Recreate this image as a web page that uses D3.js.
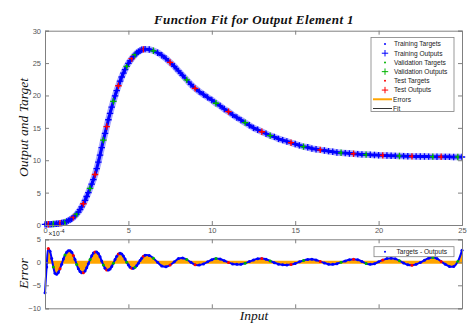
<!DOCTYPE html>
<html lang="en">
<head>
<meta charset="UTF-8">
<title>Function Fit for Output Element 1</title>
<script src="https://d3js.org/d3.v7.min.js"></script>
<style>
  body { margin: 0; background: #fff; }
  svg { display: block; }
  .tick text { font-family: "Liberation Sans", Arial, sans-serif; font-size: 7.5px; fill: #555; }
  .axis path, .axis line { stroke: #808080; }
  .ttl { font-family: "Liberation Serif", "DejaVu Serif", serif; font-style: italic; fill: #111; }
  .leg { font-family: "Liberation Sans", Arial, sans-serif; font-size: 6.6px; fill: #222; }
</style>
</head>
<body>
<script>
// inputs: 0..6 by 0.1, then 6.25..25 by 0.25
const inputs = [0,0.1,0.2,0.3,0.4,0.5,0.6,0.7,0.8,0.9,1,1.1,1.2,1.3,1.4,1.5,1.6,1.7,1.8,1.9,2,
  2.1,2.2,2.3,2.4,2.5,2.6,2.7,2.8,2.9,3,3.1,3.2,3.3,3.4,3.5,3.6,3.7,3.8,3.9,4,
  4.1,4.2,4.3,4.4,4.5,4.6,4.7,4.8,4.9,5,5.1,5.2,5.3,5.4,5.5,5.6,5.7,5.8,5.9,6,
  6.25,6.5,6.75,7,7.25,7.5,7.75,8,8.25,8.5,8.75,9,9.25,9.5,9.75,10,
  10.25,10.5,10.75,11,11.25,11.5,11.75,12,12.25,12.5,12.75,13,13.25,13.5,13.75,14,
  14.25,14.5,14.75,15,15.25,15.5,15.75,16,16.25,16.5,16.75,17,17.25,17.5,17.75,18,
  18.25,18.5,18.75,19,19.25,19.5,19.75,20,20.25,20.5,20.75,21,21.25,21.5,21.75,22,
  22.25,22.5,22.75,23,23.25,23.5,23.75,24,24.25,24.5,24.75,25];

// network outputs (targets differ only by ~1e-4)
const outputs = [0.10,0.10,0.11,0.12,0.13,0.15,0.17,0.19,0.22,0.26,0.31,0.37,0.45,0.55,0.67,0.80,0.97,1.17,1.40,1.68,2.0,
  2.37,2.8,3.28,3.8,4.4,5.0,5.65,6.3,7.0,7.8,8.7,9.7,10.8,11.95,13.1,14.15,15.2,16.25,17.25,18.2,
  19.1,19.95,20.75,21.5,22.2,22.85,23.45,24.0,24.5,24.95,25.35,25.7,26.0,26.3,26.55,26.75,26.9,27.05,27.12,27.15,
  27.1,26.9,26.6,26.2,25.7,25.1,24.5,23.8,23.1,22.4,21.7,21.1,20.6,20.15,19.7,19.3,
  18.8,18.4,17.9,17.5,17.0,16.6,16.2,15.8,15.4,15.0,14.7,14.4,14.1,13.8,13.6,13.3,
  13.1,12.9,12.7,12.5,12.3,12.1,12.0,11.8,11.7,11.6,11.5,11.4,11.3,11.2,11.15,11.1,
  11.05,11.0,10.95,10.9,10.87,10.84,10.81,10.78,10.75,10.72,10.7,10.68,10.66,10.64,10.62,10.6,
  10.59,10.58,10.57,10.56,10.55,10.54,10.53,10.52,10.52,10.51,10.51,10.5];

// targets - outputs, in units of 1e-4
const errors = [-6.6,-1.0,3.0,2.4,0.8,-1.0,-2.4,-2.6,-2.2,-1.4,-0.4,0.7,1.6,2.2,2.5,2.5,2.2,1.5,0.6,-0.5,-1.4,
  -2.0,-2.25,-2.25,-1.9,-1.2,-0.3,0.6,1.4,2.0,2.25,2.25,1.9,1.2,0.3,-0.6,-1.3,-1.65,-1.7,-1.45,-0.9,
  -0.2,0.6,1.3,1.8,1.95,1.8,1.35,0.7,0.0,-0.6,-1.05,-1.3,-1.3,-1.1,-0.7,-0.2,0.4,0.9,1.3,1.55,
  1.5,0.9,0.0,-0.8,-0.95,-0.6,0.1,0.8,0.95,0.6,0.0,-0.55,-0.6,-0.35,0.1,0.55,
  0.8,0.7,0.35,-0.05,-0.35,-0.45,-0.4,-0.2,0.15,0.5,0.75,0.8,0.65,0.3,-0.1,-0.4,
  -0.55,-0.6,-0.5,-0.25,0.1,0.4,0.6,0.65,0.5,0.2,-0.15,-0.4,-0.45,-0.3,0.0,0.3,
  0.55,0.65,0.55,0.2,-0.25,-0.45,-0.3,0.1,0.5,0.8,0.9,0.75,0.35,-0.15,-0.55,-0.65,
  -0.45,-0.05,0.45,0.9,1.05,0.8,0.2,-0.45,-0.9,-0.9,0.2,2.6];

// T = training, V = validation, S = test
const split = "TTSTTVTTTSTTVTTTTSTVTTTSTTTVTTSTTTTVTSTTTVTTSTTTTVTTSTVTTTTSTTVTTTSTTTVTSTTTTVTTSTTTVTTTSTVTTTTSTTVTTTSTTTTVTTSTTVTTTSTTTVTTSTTTTVTSTTTVTTS";

const yTicksTop = [0, 5, 10, 15, 20, 25, 30];
const yTicksErr = [-10, -5, 0, 5];
const xTicks = [0, 5, 10, 15, 20, 25];
const legendTop = ["Training Targets", "Training Outputs", "Validation Targets", "Validation Outputs", "Test Targets", "Test Outputs", "Errors", "Fit"];

const splitColor = {T: "#0000ff", V: "#00b400", S: "#ff0000"};
const errColor = "#ffa500";

const data = inputs.map((x, i) => ({x: x, y: outputs[i], e: errors[i], s: split[i] || "T"}));

const W = 472, H = 324;
const svg = d3.select("body").append("svg").attr("width", W).attr("height", H);

const x = d3.scaleLinear().domain([0, 25]).range([45, 462]);
const yTop = d3.scaleLinear().domain([0, 30]).range([225, 30.7]);
const yErr = d3.scaleLinear().domain([-10, 5]).range([308.3, 239.3]);

function box(yScale, yTicks, showX) {
  const [y0, y1] = yScale.range();
  svg.append("g").attr("class", "axis").attr("transform", `translate(0,${y0})`)
    .call(d3.axisBottom(x).tickValues(xTicks).tickSize(-4).tickPadding(3)
      .tickFormat(showX ? d3.format("d") : ""));
  svg.append("g").attr("class", "axis").attr("transform", `translate(0,${y1})`)
    .call(d3.axisTop(x).tickValues(xTicks).tickSize(-4).tickFormat(""));
  svg.append("g").attr("class", "axis").attr("transform", `translate(${x.range()[0]},0)`)
    .call(d3.axisLeft(yScale).tickValues(yTicks).tickSize(-4).tickPadding(4));
  svg.append("g").attr("class", "axis").attr("transform", `translate(${x.range()[1]},0)`)
    .call(d3.axisRight(yScale).tickValues(yTicks).tickSize(-4).tickFormat(""));
  svg.selectAll(".axis path").attr("stroke", "#808080");
}

// ---------- top plot ----------
const topLine = d3.line().x(d => x(d.x)).y(d => yTop(d.y)).curve(d3.curveMonotoneX);
svg.append("path").datum(data)
  .attr("fill", "none").attr("stroke", "#000").attr("stroke-width", 1).attr("d", topLine);
// dense marker band (outputs drawn over the fit)
svg.append("path").datum(data)
  .attr("fill", "none").attr("stroke", "#a8a8ff").attr("stroke-width", 6.5).attr("d", topLine);
svg.append("path").datum(data)
  .attr("fill", "none").attr("stroke", "#0000ff").attr("stroke-width", 3).attr("d", topLine);

const plus = "M-3.2,0H3.2M0,-3.2V3.2";
svg.append("g").selectAll("path").data(data).join("path")
  .attr("transform", d => `translate(${x(d.x)},${yTop(d.y)})`)
  .attr("d", plus).attr("stroke", d => splitColor[d.s]).attr("stroke-width", 1.3);
svg.append("g").selectAll("circle").data(data).join("circle")
  .attr("cx", d => x(d.x)).attr("cy", d => yTop(d.y + d.e * 1e-4)).attr("r", 1.2)
  .attr("fill", d => splitColor[d.s]);

box(yTop, yTicksTop, true);

// ---------- error plot ----------
svg.append("path").datum(data)
  .attr("fill", errColor)
  .attr("d", d3.area().x(d => x(d.x)).y0(yErr(0)).y1(d => yErr(d.e)).curve(d3.curveCatmullRom));
svg.append("line").attr("x1", x(0)).attr("x2", x(25)).attr("y1", yErr(0)).attr("y2", yErr(0))
  .attr("stroke", errColor).attr("stroke-width", 3);
svg.append("path").datum(data)
  .attr("fill", "none").attr("stroke", "#0000ff").attr("stroke-width", 2)
  .attr("d", d3.line().x(d => x(d.x)).y(d => yErr(d.e)).curve(d3.curveCatmullRom));
svg.append("g").selectAll("circle").data(data).join("circle")
  .attr("cx", d => x(d.x)).attr("cy", d => yErr(d.e)).attr("r", 1.5)
  .attr("fill", d => splitColor[d.s]);

box(yErr, yTicksErr, false);

// exponent label
const ex = svg.append("text").attr("class", "leg").attr("x", 48.5).attr("y", 235.5).attr("fill", "#555");
ex.append("tspan").text("\u00d710");
ex.append("tspan").attr("dy", -3).attr("font-size", 5.5).text("-4");

// ---------- titles ----------
svg.append("text").attr("class", "ttl").attr("x", 254).attr("y", 24)
  .attr("text-anchor", "middle").attr("font-weight", "bold").attr("font-size", 13)
  .attr("letter-spacing", 0.4)
  .text("Function Fit for Output Element 1");
svg.append("text").attr("class", "ttl").attr("transform", "translate(28,127.5) rotate(-90)")
  .attr("text-anchor", "middle").attr("font-size", 13.5).text("Output and Target");
svg.append("text").attr("class", "ttl").attr("transform", "translate(28,273.5) rotate(-90)")
  .attr("text-anchor", "middle").attr("font-size", 13.5).text("Error");
svg.append("text").attr("class", "ttl").attr("x", 254).attr("y", 320)
  .attr("text-anchor", "middle").attr("font-size", 13.5).text("Input");

// ---------- legends ----------
const lg = svg.append("g");
lg.append("rect").attr("x", 371).attr("y", 37.5).attr("width", 83).attr("height", 74)
  .attr("fill", "#fff").attr("stroke", "#808080").attr("stroke-width", 0.8);
const rowY = d3.scalePoint().domain(legendTop).range([44, 108.5]);
const legColor = ["T", "T", "V", "V", "S", "S"];
legendTop.forEach((name, i) => {
  const cy = rowY(name);
  if (i < 6) {
    const c = splitColor[legColor[i]];
    if (i % 2 === 0) lg.append("circle").attr("cx", 385).attr("cy", cy).attr("r", 1).attr("fill", c);
    else lg.append("path").attr("transform", `translate(385,${cy})`).attr("d", plus)
      .attr("stroke", c).attr("stroke-width", 1);
  } else {
    lg.append("line").attr("x1", 373).attr("x2", 392).attr("y1", cy).attr("y2", cy)
      .attr("stroke", i === 6 ? errColor : "#333").attr("stroke-width", i === 6 ? 2 : 1);
  }
  lg.append("text").attr("class", "leg").attr("x", i < 6 ? 394 : 393).attr("y", cy + 2.3).text(name);
});

const lg2 = svg.append("g");
lg2.append("rect").attr("x", 374).attr("y", 246.7).attr("width", 80).attr("height", 10)
  .attr("fill", "#fff").attr("stroke", "#808080").attr("stroke-width", 0.8);
lg2.append("circle").attr("cx", 385).attr("cy", 251.7).attr("r", 1).attr("fill", "#0000ff");
lg2.append("text").attr("class", "leg").attr("x", 396.5).attr("y", 254).text("Targets - Outputs");
</script>
</body>
</html>
